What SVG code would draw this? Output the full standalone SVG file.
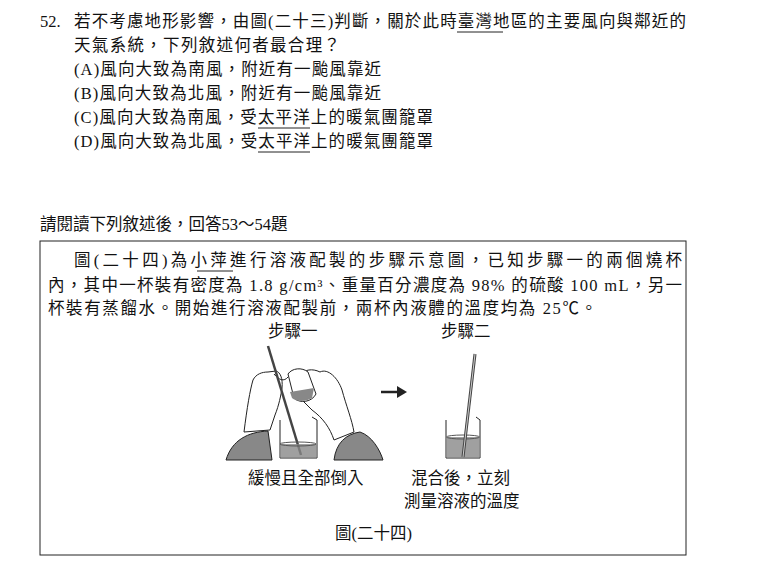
<svg xmlns="http://www.w3.org/2000/svg" width="760" height="563" viewBox="0 0 760 563">
<style>
text{font-family:"Liberation Serif","Noto Sans CJK TC",serif;font-size:16.5px;fill:#111}
.ln{stroke:#222;fill:none;stroke-width:1}
.g{fill:#888}
</style>
<rect width="760" height="563" fill="#fff"/>
<text x="40" y="27">52.</text>
<text x="74" y="27" textLength="612" lengthAdjust="spacing">若不考慮地形影響，由圖(二十三)判斷，關於此時臺灣地區的主要風向與鄰近的</text>
<line class="ln" x1="457" y1="32" x2="503" y2="32"/>
<text x="74" y="51" textLength="266" lengthAdjust="spacing">天氣系統，下列敘述何者最合理？</text>
<text x="74" y="75" textLength="307" lengthAdjust="spacing">(A)風向大致為南風，附近有一颱風靠近</text>
<text x="74" y="99" textLength="307" lengthAdjust="spacing">(B)風向大致為北風，附近有一颱風靠近</text>
<text x="74" y="123" textLength="359" lengthAdjust="spacing">(C)風向大致為南風，受太平洋上的暖氣團籠罩</text>
<line class="ln" x1="258" y1="128" x2="310" y2="128"/>
<text x="74" y="147" textLength="359" lengthAdjust="spacing">(D)風向大致為北風，受太平洋上的暖氣團籠罩</text>
<line class="ln" x1="258" y1="152" x2="310" y2="152"/>
<text x="40" y="230" font-size="14">請閱讀下列敘述後，回答53～54題</text>
<rect x="40" y="241" width="646" height="314" class="ln"/>
<text x="74" y="266" textLength="608" lengthAdjust="spacing">圖(二十四)為小萍進行溶液配製的步驟示意圖，已知步驟一的兩個燒杯</text>
<line class="ln" x1="197" y1="271" x2="233" y2="271"/>
<text x="48" y="291" textLength="634" lengthAdjust="spacing">內，其中一杯裝有密度為 1.8 g/cm³、重量百分濃度為 98% 的硫酸 100 mL，另一</text>
<text x="48" y="314" textLength="549" lengthAdjust="spacing">杯裝有蒸餾水。開始進行溶液配製前，兩杯內液體的溫度均為 25℃。</text>
<text x="268" y="337" font-size="14">步驟一</text>
<text x="441" y="337" font-size="14">步驟二</text>
<g id="step1">
<path d="M226,460 C232,440 248,432 268,431 L272,460 Z" class="g" stroke="#222"/>
<path d="M334,460 C336,443 346,434 360,432 C372,436 380,450 383,460 Z" class="g" stroke="#222"/>
<path class="ln" fill="#fff" d="M244,432 C247,408 250,390 253,380 C256,374 262,372 268,372 L276,371 C280,372 283,378 282,388 C281,395 279,405 275,415 L270,430 Z"/>
<path class="ln" d="M274,374 C279,380 284,382 288,377"/>
<path class="ln" fill="#fff" d="M300,374 C305,370 312,368 320,372 C328,368 338,378 342,390 C346,405 352,420 354,432 L334,440 C330,428 323,418 312,410 L304,402 Z"/>
<path d="M288,374 C292,368 302,367 308,372 L316,394 C312,402 300,404 294,398 Z" fill="#fff" stroke="#222"/>
<path d="M290,392 L314,388 L312,398 C306,402 296,402 292,398 Z" class="g"/>
<line x1="268" y1="346" x2="301" y2="455" stroke="#444" stroke-width="2.5"/>
<path d="M280,420 L280,458 L317,458 L317,420 L312,417" class="ln"/>
<rect x="280.5" y="444" width="36" height="14" class="g" opacity="0.8"/>
<ellipse cx="298" cy="444" rx="18" ry="2" fill="none" stroke="#555"/>
</g>
<g id="arrow">
<line x1="381" y1="392" x2="398" y2="392" stroke="#222" stroke-width="2.5"/>
<polygon points="397,386 407,392 397,398" fill="#222"/>
</g>
<g id="step2">
<path d="M446,420 L446,458 L480,458 L480,420 L476,417" class="ln"/>
<rect x="446.5" y="437" width="33" height="21" class="g" opacity="0.8"/>
<ellipse cx="463" cy="437" rx="16.5" ry="2" fill="none" stroke="#555"/>
<line x1="475" y1="354" x2="463" y2="457" stroke="#444" stroke-width="3"/>
<line x1="475" y1="354" x2="463" y2="457" stroke="#ccc" stroke-width="1"/>
</g>
<text x="248" y="484" font-size="14">緩慢且全部倒入</text>
<text x="411" y="484" font-size="14">混合後，立刻</text>
<text x="404" y="507" font-size="14">測量溶液的溫度</text>
<text x="335" y="539" font-size="14">圖(二十四)</text>
</svg>
